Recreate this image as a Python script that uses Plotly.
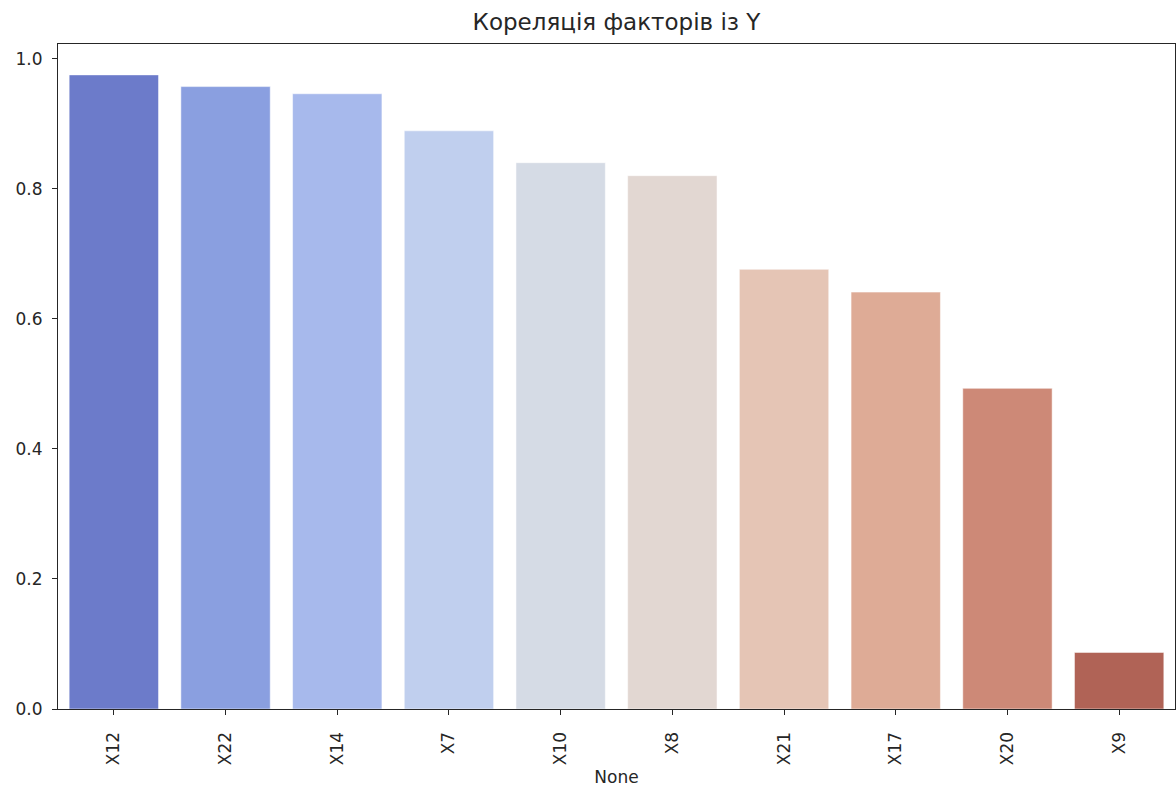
import plotly.graph_objects as go

# Correlation of each factor with Y, sorted descending
factors = ["X12", "X22", "X14", "X7", "X10", "X8", "X21", "X17", "X20", "X9"]
correlations = [0.975, 0.957, 0.946, 0.889, 0.840, 0.820, 0.676, 0.641, 0.493, 0.087]

# coolwarm-style palette (desaturated), one colour per bar
bar_colors = ["#6c7bca", "#8a9fe0", "#a7b9ec", "#c0cfee", "#d5dbe5",
              "#e2d7d2", "#e5c5b5", "#deab96", "#cd8977", "#b06356"]
y_ticks = [0.0, 0.2, 0.4, 0.6, 0.8, 1.0]

font = "DejaVu Sans"
ink = "#262626"

fig = go.Figure(
    go.Bar(
        x=factors,
        y=correlations,
        marker=dict(color=bar_colors, line=dict(color="rgba(255,255,255,0.5)", width=1)),
        width=0.8,
        showlegend=False,
        hoverinfo="x+y",
    )
)

fig.update_layout(
    width=1176,
    height=792,
    margin=dict(l=58, r=1, t=44, b=83),
    paper_bgcolor="white",
    plot_bgcolor="white",
    font=dict(family=font, size=17, color=ink),
    title=dict(
        text="Кореляція факторів із Y",
        x=0.5 * (58 + 1175) / 1176,
        xanchor="center",
        y=1 - 22 / 792,
        yanchor="middle",
        font=dict(family=font, size=23, color=ink),
    ),
    bargap=0.2,
)

fig.update_xaxes(
    range=[-0.5, 9.5],
    tickangle=-90,
    ticks="outside",
    ticklen=5,
    tickwidth=1,
    tickcolor=ink,
    ticklabelstandoff=10,
    showline=True,
    linecolor=ink,
    linewidth=1.2,
    mirror=True,
    showgrid=False,
    tickfont=dict(family=font, size=17, color=ink),
    title=dict(text="None", font=dict(family=font, size=17, color=ink), standoff=6),
)

fig.update_yaxes(
    range=[0, 1.0225],
    tickvals=y_ticks,
    ticktext=[f"{v:.1f}" for v in y_ticks],
    ticks="outside",
    ticklen=5,
    tickwidth=1,
    tickcolor=ink,
    ticklabelstandoff=6,
    showline=True,
    linecolor=ink,
    linewidth=1.2,
    mirror=True,
    showgrid=False,
    zeroline=False,
    tickfont=dict(family=font, size=17, color=ink),
)

fig.write_html("out.html")
